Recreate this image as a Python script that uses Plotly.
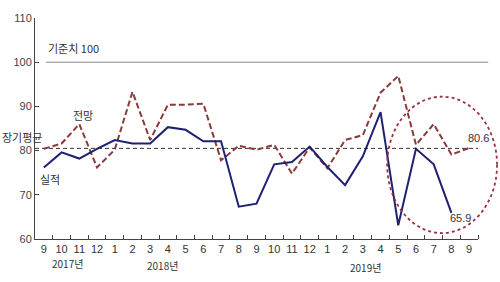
import plotly.graph_objects as go

months = ['9', '10', '11', '12', '1', '2', '3', '4', '5', '6', '7', '8',
          '9', '10', '11', '12', '1', '2', '3', '4', '5', '6', '7', '8', '9']
actual = [76.2, 79.6, 78.2, 80.4, 82.4, 81.6, 81.6, 85.3, 84.7, 82.1, 82.1, 67.3,
          68.0, 76.9, 77.4, 80.9, 76.3, 72.2, 78.7, 88.7, 63.1, 80.4, 76.9, 65.9, None]
outlook = [80.4, 81.6, 86.0, 76.2, 80.2, 93.3, 82.4, 90.4, 90.4, 90.6, 77.8, 81.1,
           80.2, 81.3, 74.8, 80.7, 76.0, 82.4, 83.5, 93.1, 96.9, 81.3, 86.0, 79.1, 80.6]
long_avg = 80.5
baseline = 100
years = ['2017년', '2018년', '2019년']
yticks = [60, 70, 80, 90, 100, 110]

x = list(range(len(months)))
NUM = "Liberation Sans, Arial, sans-serif"
KR = "Noto Sans CJK KR, sans-serif"

fig = go.Figure()
fig.add_trace(go.Scatter(x=[-0.5, len(months) - 0.5], y=[long_avg, long_avg], mode='lines',
                         line=dict(color='#333333', width=1, dash='4px,3px'), hoverinfo='skip'))
fig.add_trace(go.Scatter(x=x, y=outlook, mode='lines',
                         line=dict(color='#8b3a3a', width=2, dash='6px,3px'), hoverinfo='skip'))
fig.add_trace(go.Scatter(x=x, y=actual, mode='lines',
                         line=dict(color='#202070', width=2), hoverinfo='skip'))

# baseline 100 line (extends slightly beyond the axis end)
fig.add_shape(type='line', xref='paper', yref='y', x0=0.025, x1=1.023,
              y0=baseline, y1=baseline, line=dict(color='#8a8a8a', width=1), layer='below')

# dotted ellipse highlight
fig.add_shape(type='circle', xref='paper', yref='paper',
              x0=0.795, x1=1.043, y0=0.027, y1=0.644,
              line=dict(color='#9b3040', width=1.8, dash='dot'))

def ann(text, xv, yv, xref='x', yref='y', font=KR, size=11, xanchor='center'):
    fig.add_annotation(text=text, x=xv, y=yv, xref=xref, yref=yref, showarrow=False,
                       font=dict(family=font, size=size, color='#333333'),
                       xanchor=xanchor, yanchor='middle')

ann('기준치 100', 0.1, 103.2, xanchor='left')
ann('전망', 2.2, 88.0)
ann('장기평균', -0.079, 83.1, xref='paper', xanchor='left')
ann('실적', 0.35, 73.6)
ann(f'{outlook[-1]}', 24.5, 82.9, font=NUM)
ann(f'{actual[23]}', 23.5, 64.7, font=NUM)
ann(years[0], 1.33, -0.11, yref='paper', font=KR, size=10)
ann(years[1], 6.7, -0.122, yref='paper', font=KR, size=10)
ann(years[2], 18.15, -0.13, yref='paper', font=KR, size=10)

fig.update_layout(
    width=500, height=282, margin=dict(l=35, r=22, t=14, b=43),
    paper_bgcolor='white', plot_bgcolor='white', showlegend=False,
    font=dict(family=NUM, size=11, color='#333333'),
)
fig.update_xaxes(range=[-0.5, len(months) - 0.5], tickvals=x, ticktext=months,
                 ticks='', showline=True, linecolor='#444444', linewidth=1,
                 showgrid=False, zeroline=False, fixedrange=True,
                 tickfont=dict(family=NUM, size=11, color='#333333'),
                 minor=dict(tickvals=[i + 0.5 for i in range(len(months))],
                            ticks='inside', ticklen=4, tickcolor='#444444'))
fig.update_yaxes(range=[60, 110], tickvals=yticks, ticks='inside', ticklen=4,
                 tickcolor='#444444', showline=True, linecolor='#444444', linewidth=1,
                 showgrid=False, zeroline=False, fixedrange=True,
                 tickfont=dict(family=NUM, size=11, color='#444444'))

fig.write_html("out.html")
